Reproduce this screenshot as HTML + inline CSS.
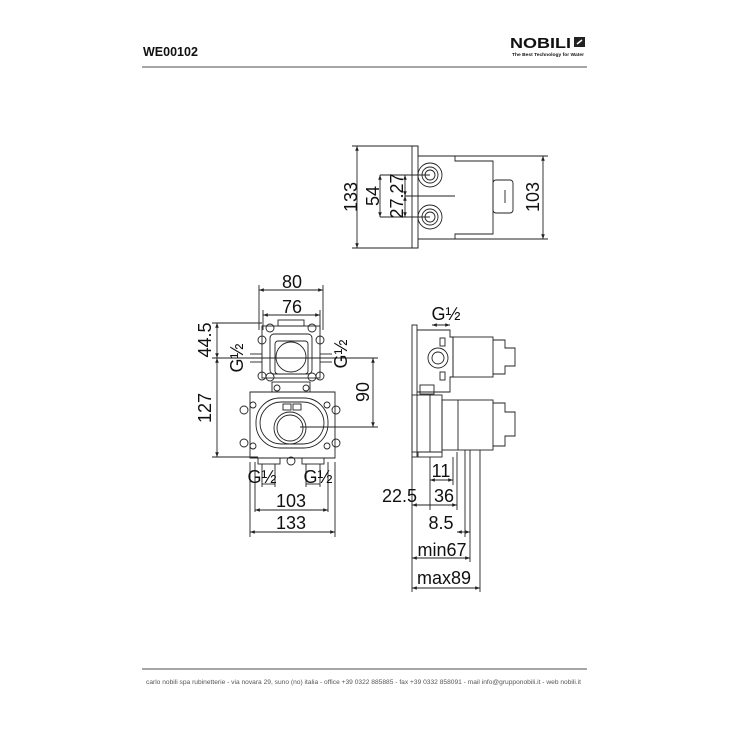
<!DOCTYPE html>
<html><head><meta charset="utf-8"><style>
html,body{margin:0;padding:0;background:#fff}
svg{display:block}
text{font-family:"Liberation Sans",sans-serif;fill:#111}
</style></head><body>
<svg width="737" height="737" viewBox="0 0 737 737" xmlns="http://www.w3.org/2000/svg">
<defs>
<marker id="a" viewBox="0 0 8 6" refX="8" refY="3" markerWidth="6" markerHeight="4" orient="auto-start-reverse"><path d="M0,0L8,3L0,6z" fill="#222"/></marker>
</defs>
<text x="143" y="56" font-size="12.5" font-weight="bold">WE00102</text>
<text x="510" y="48" font-size="14.5" font-weight="bold" textLength="61" lengthAdjust="spacingAndGlyphs">NOBILI</text>
<rect x="574" y="37" width="11" height="10" fill="#222"/>
<path d="M577 44 L582 40" stroke="#fff" stroke-width="1.5"/>
<text x="512" y="56" font-size="4.5" font-weight="bold" textLength="72" lengthAdjust="spacingAndGlyphs">The Best Technology for Water</text>
<line x1="142" y1="67" x2="587" y2="67" stroke="#888" stroke-width="1.5"/>
<line x1="142" y1="669" x2="587" y2="669" stroke="#888" stroke-width="1.5"/>
<text x="146" y="684" font-size="6.3" textLength="435" lengthAdjust="spacingAndGlyphs" style="fill:#555">carlo nobili spa rubinetterie - via novara 29, suno (no) italia - office +39 0322 885885 - fax +39 0332 858091 - mail info@grupponobili.it - web nobili.it</text>

<g stroke="#222" stroke-width="0.9" fill="none">
<line x1="352" y1="146" x2="418" y2="146"/><line x1="352" y1="248" x2="418" y2="248"/>
<line x1="357" y1="146" x2="357" y2="248" marker-start="url(#a)" marker-end="url(#a)"/>
<path d="M412 146H418V156H455V161H493V234H455V239H418V248H412Z"/>
<line x1="418" y1="146" x2="418" y2="248"/>
<rect x="493" y="180" width="20" height="33" rx="3"/>
<line x1="505" y1="190" x2="505" y2="203"/>
<circle cx="430" cy="175" r="12"/><circle cx="430" cy="175" r="8"/><circle cx="430" cy="175" r="5"/>
<circle cx="430" cy="217" r="12"/><circle cx="430" cy="217" r="8"/><circle cx="430" cy="217" r="5"/>
<line x1="380" y1="175" x2="430" y2="175"/><line x1="380" y1="217" x2="430" y2="217"/>
<line x1="405" y1="196" x2="455" y2="196"/>
<line x1="380" y1="175" x2="380" y2="217" marker-start="url(#a)" marker-end="url(#a)"/>
<line x1="405" y1="175" x2="405" y2="196" marker-start="url(#a)" marker-end="url(#a)"/>
<line x1="405" y1="196" x2="405" y2="217" marker-start="url(#a)" marker-end="url(#a)"/>
<line x1="455" y1="156" x2="548" y2="156"/><line x1="455" y1="239" x2="548" y2="239"/>
<line x1="543" y1="156" x2="543" y2="239" marker-start="url(#a)" marker-end="url(#a)"/>

<line x1="259" y1="285" x2="259" y2="330"/><line x1="323" y1="285" x2="323" y2="330"/>
<line x1="259" y1="290" x2="323" y2="290" marker-start="url(#a)" marker-end="url(#a)"/>
<line x1="263" y1="310" x2="263" y2="330"/><line x1="320" y1="310" x2="320" y2="330"/>
<line x1="263" y1="315" x2="320" y2="315" marker-start="url(#a)" marker-end="url(#a)"/>
<rect x="262" y="326" width="58" height="52"/>
<rect x="270" y="334" width="42" height="40" rx="4"/>
<rect x="275" y="341" width="33" height="33" rx="3"/>
<circle cx="291" cy="357" r="15"/>
<rect x="278" y="320" width="26" height="6"/>
<circle cx="270" cy="328" r="4"/><circle cx="312" cy="328" r="4"/><circle cx="270" cy="377" r="4"/><circle cx="312" cy="377" r="4"/>
<circle cx="262" cy="340" r="4"/><circle cx="320" cy="340" r="4"/><circle cx="262" cy="376" r="4"/><circle cx="320" cy="376" r="4"/>
<rect x="272" y="382" width="38" height="10"/>
<circle cx="277" cy="388" r="3"/><circle cx="306" cy="388" r="3"/>
<path d="M250 392H335V458H250Z"/>
<rect x="256" y="398" width="72" height="50" rx="24"/>
<rect x="260" y="402" width="64" height="42" rx="21"/>
<circle cx="290" cy="428" r="16"/><circle cx="290" cy="428" r="13"/>
<rect x="283" y="404" width="8" height="6"/><rect x="293" y="404" width="8" height="6"/>
<circle cx="244" cy="410" r="4"/><circle cx="336" cy="410" r="4"/><circle cx="244" cy="443" r="4"/><circle cx="336" cy="443" r="4"/>
<circle cx="253" cy="405" r="3"/><circle cx="327" cy="405" r="3"/><circle cx="253" cy="446" r="3"/><circle cx="327" cy="446" r="3"/>
<rect x="258" y="458" width="22" height="6"/><rect x="302" y="458" width="22" height="6"/>
<circle cx="291" cy="461" r="4"/>
<line x1="212" y1="323" x2="262" y2="323"/><line x1="212" y1="457" x2="258" y2="457"/>
<line x1="212" y1="358" x2="378" y2="358"/>
<line x1="217" y1="323" x2="217" y2="358" marker-start="url(#a)" marker-end="url(#a)"/>
<line x1="217" y1="358" x2="217" y2="457" marker-start="url(#a)" marker-end="url(#a)"/>
<line x1="300" y1="427" x2="378" y2="427"/>
<line x1="373" y1="358" x2="373" y2="427" marker-start="url(#a)" marker-end="url(#a)"/>
<line x1="250" y1="354" x2="262" y2="354"/><line x1="250" y1="362" x2="262" y2="362"/>
<line x1="320" y1="354" x2="332" y2="354"/><line x1="320" y1="362" x2="332" y2="362"/>
<line x1="250" y1="462" x2="250" y2="537"/><line x1="335" y1="462" x2="335" y2="537"/>
<line x1="255" y1="462" x2="255" y2="512"/><line x1="328" y1="462" x2="328" y2="512"/>
<line x1="262" y1="464" x2="262" y2="487"/><line x1="275" y1="464" x2="275" y2="487"/>
<line x1="306" y1="464" x2="306" y2="487"/><line x1="320" y1="464" x2="320" y2="487"/>
<line x1="262" y1="484" x2="275" y2="484"/><line x1="306" y1="484" x2="320" y2="484"/>
<line x1="255" y1="510" x2="328" y2="510" marker-start="url(#a)" marker-end="url(#a)"/>
<line x1="250" y1="532" x2="335" y2="532" marker-start="url(#a)" marker-end="url(#a)"/>

<rect x="412" y="325" width="5" height="132"/>
<path d="M417 330H450V337H453V377H450V392H417"/>
<rect x="453" y="337" width="40" height="40"/>
<path d="M493 340H505V348H515V366H505V374H493"/>
<circle cx="438" cy="358" r="10"/><circle cx="438" cy="358" r="6"/>
<rect x="440" y="338" width="5" height="8"/><rect x="440" y="372" width="5" height="8"/>
<rect x="420" y="385" width="14" height="9"/>
<rect x="412" y="395" width="30" height="57"/>
<line x1="430" y1="395" x2="430" y2="452"/>
<rect x="442" y="400" width="51" height="50"/>
<line x1="458" y1="400" x2="458" y2="450"/>
<path d="M493 403H505V412H515V436H505V446H493"/>
<rect x="418" y="452" width="24" height="5"/>
<line x1="432" y1="325" x2="450" y2="325" marker-start="url(#a)" marker-end="url(#a)"/>
<line x1="412" y1="457" x2="412" y2="592"/>
<line x1="430" y1="457" x2="430" y2="510"/>
<line x1="453" y1="457" x2="453" y2="485"/>
<line x1="457" y1="452" x2="457" y2="510"/>
<line x1="465" y1="450" x2="465" y2="537"/>
<line x1="470" y1="450" x2="470" y2="562"/>
<line x1="480" y1="450" x2="480" y2="592"/>
<line x1="430" y1="480" x2="453" y2="480" marker-start="url(#a)" marker-end="url(#a)"/>
<line x1="412" y1="505" x2="457" y2="505" marker-start="url(#a)" marker-end="url(#a)"/>
<line x1="457" y1="532" x2="470" y2="532" marker-start="url(#a)" marker-end="url(#a)"/>
<line x1="412" y1="558" x2="470" y2="558" marker-start="url(#a)" marker-end="url(#a)"/>
<line x1="412" y1="588" x2="480" y2="588" marker-start="url(#a)" marker-end="url(#a)"/>
</g>

<g>
<text x="351" y="197" font-size="18" text-anchor="middle" transform="rotate(-90 351 197)" dy="6">133</text>
<text x="373" y="196" font-size="18" text-anchor="middle" transform="rotate(-90 373 196)" dy="6">54</text>
<text x="397" y="196" font-size="18" text-anchor="middle" transform="rotate(-90 397 196)" dy="6">27.27</text>
<text x="533" y="197" font-size="18" text-anchor="middle" transform="rotate(-90 533 197)" dy="6">103</text>
<text x="292" y="288" font-size="18" text-anchor="middle">80</text>
<text x="292" y="313" font-size="18" text-anchor="middle">76</text>
<text x="205" y="340" font-size="18" text-anchor="middle" transform="rotate(-90 205 340)" dy="6">44.5</text>
<text x="205" y="408" font-size="18" text-anchor="middle" transform="rotate(-90 205 408)" dy="6">127</text>
<text x="237" y="358" font-size="18" text-anchor="middle" transform="rotate(-90 237 358)" dy="6">G½</text>
<text x="341" y="354" font-size="18" text-anchor="middle" transform="rotate(-90 341 354)" dy="6">G½</text>
<text x="363" y="392" font-size="18" text-anchor="middle" transform="rotate(-90 363 392)" dy="6">90</text>
<text x="262" y="483" font-size="18" text-anchor="middle">G½</text>
<text x="318" y="483" font-size="18" text-anchor="middle">G½</text>
<text x="291" y="507" font-size="18" text-anchor="middle">103</text>
<text x="291" y="529" font-size="18" text-anchor="middle">133</text>
<text x="446" y="320" font-size="18" text-anchor="middle">G½</text>
<text x="441" y="477" font-size="18" text-anchor="middle">11</text>
<text x="382" y="502" font-size="18">22.5</text>
<text x="434" y="502" font-size="18">36</text>
<text x="441" y="529" font-size="18" text-anchor="middle">8.5</text>
<text x="442" y="556" font-size="18" text-anchor="middle">min67</text>
<text x="444" y="584" font-size="18" text-anchor="middle">max89</text>
</g>
</svg>
</body></html>
